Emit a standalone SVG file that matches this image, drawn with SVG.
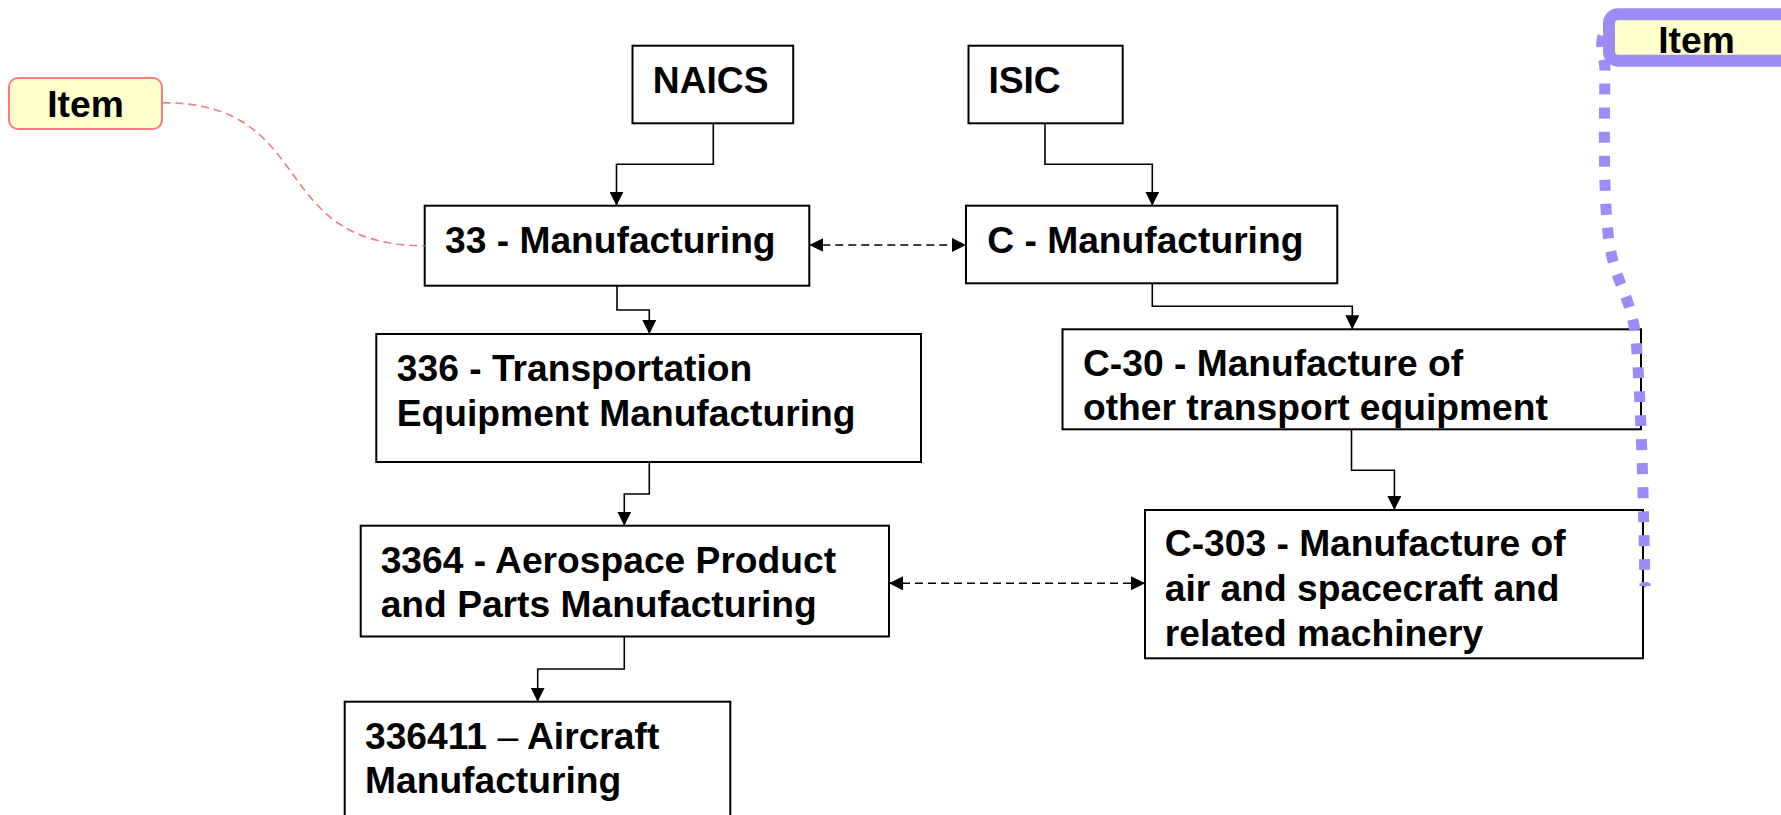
<svg xmlns="http://www.w3.org/2000/svg" width="1781" height="815" viewBox="0 0 1781 815">
<style>
.box{fill:none;stroke:#000;stroke-width:2}
.t{font-family:"Liberation Sans",Arial,sans-serif;font-weight:bold;font-size:37.2px;fill:#000}
.c{fill:none;stroke:#000;stroke-width:1.6}
.d{fill:none;stroke:#000;stroke-width:1.6;stroke-dasharray:8 5}
</style>
<defs>
<marker id="ah" markerUnits="userSpaceOnUse" markerWidth="14" markerHeight="14" refX="14" refY="7" orient="auto-start-reverse">
<path d="M0,0 L14,7 L0,14 z" fill="#000"/>
</marker>
<marker id="ahp" markerUnits="userSpaceOnUse" markerWidth="10" markerHeight="8" refX="4" refY="4" orient="auto">
<path d="M0,0 L6,4 L0,8 z" fill="#9f8bf5"/>
</marker>
</defs>
<rect width="1781" height="815" fill="#fff"/>
<g id="item-left">
<rect x="9" y="78" width="153" height="51" rx="9" fill="#ffffcc" stroke="#f47c7c" stroke-width="2"/>
<text class="t" x="85.5" y="117" text-anchor="middle">Item</text>
</g>
<g id="item-right">
<rect x="1609" y="14.3" width="200" height="46.4" rx="9" fill="#ffffcc" stroke="#9f8bf5" stroke-width="12"/>
<text class="t" x="1696.5" y="52.5" text-anchor="middle">Item</text>
</g>
<g id="naics">
<rect class="box" x="632.5" y="45.7" width="160.7" height="77.6"/>
<text class="t" x="652.8" y="92.7">NAICS</text>
</g>
<g id="isic">
<rect class="box" x="968.5" y="45.7" width="154.2" height="77.6"/>
<text class="t" x="988.4" y="92.7">ISIC</text>
</g>
<g id="n33">
<rect class="box" x="424.7" y="205.7" width="384.6" height="80"/>
<text class="t" x="445" y="253">33 - Manufacturing</text>
</g>
<g id="nC">
<rect class="box" x="966" y="205.7" width="371.3" height="77.6"/>
<text class="t" x="987.3" y="252.7">C - Manufacturing</text>
</g>
<g id="n336">
<rect class="box" x="376.3" y="334" width="544.7" height="128"/>
<text class="t" x="396.8" y="381">336 - Transportation</text>
<text class="t" x="396.8" y="425.5">Equipment Manufacturing</text>
</g>
<g id="nC30">
<rect class="box" x="1062.5" y="329.3" width="578.5" height="100"/>
<text class="t" x="1083" y="375.5">C-30 - Manufacture of</text>
<text class="t" x="1083" y="420">other transport equipment</text>
</g>
<g id="n3364">
<rect class="box" x="360.7" y="525.7" width="528.3" height="110.8"/>
<text class="t" x="380.7" y="572.7">3364 - Aerospace Product</text>
<text class="t" x="380.7" y="616.7">and Parts Manufacturing</text>
</g>
<g id="nC303">
<rect class="box" x="1145" y="510" width="498" height="148.3"/>
<text class="t" x="1164.8" y="555.5">C-303 - Manufacture of</text>
<text class="t" x="1164.8" y="600.5">air and spacecraft and</text>
<text class="t" x="1164.8" y="645.5">related machinery</text>
</g>
<g id="n336411">
<rect class="box" x="344.7" y="701.7" width="385.6" height="130"/>
<text class="t" x="365" y="748.5">336411 <tspan font-weight="normal">–</tspan> Aircraft</text>
<text class="t" x="365" y="793">Manufacturing</text>
</g>
<g id="connectors">
<path class="c" d="M713.3,123.3 V164.3 H616.5 V205.7" marker-end="url(#ah)"/>
<path class="c" d="M1045,123.3 V164.3 H1152.3 V205.7" marker-end="url(#ah)"/>
<path class="c" d="M617,285.7 V310 H649.3 V334" marker-end="url(#ah)"/>
<path class="c" d="M1152.3,283.3 V306.3 H1352.3 V329.3" marker-end="url(#ah)"/>
<path class="c" d="M649.3,462 V494 H624.3 V525.7" marker-end="url(#ah)"/>
<path class="c" d="M1351.5,429.3 V470.3 H1394.4 V510" marker-end="url(#ah)"/>
<path class="c" d="M624.3,636.5 V669 H537.7 V701.7" marker-end="url(#ah)"/>
<path class="d" d="M809.3,245 H966" marker-start="url(#ah)" marker-end="url(#ah)"/>
<path class="d" d="M889,583.3 H1145" marker-start="url(#ah)" marker-end="url(#ah)"/>
<path d="M162.3,102.7 C320,102.7 265,245.7 424.7,245.7" fill="none" stroke="#f47c7c" stroke-width="1.6" stroke-dasharray="8 5"/>
<path d="M1603,36 C1599,48 1605,58 1605,70 C1604,140 1603,220 1612,257 C1618,285 1632,300 1636,340 C1641,400 1643,480 1645,586" fill="none" stroke="#9f8bf5" stroke-width="11" stroke-dasharray="11 13" marker-end="url(#ahp)"/>
</g>
</svg>
